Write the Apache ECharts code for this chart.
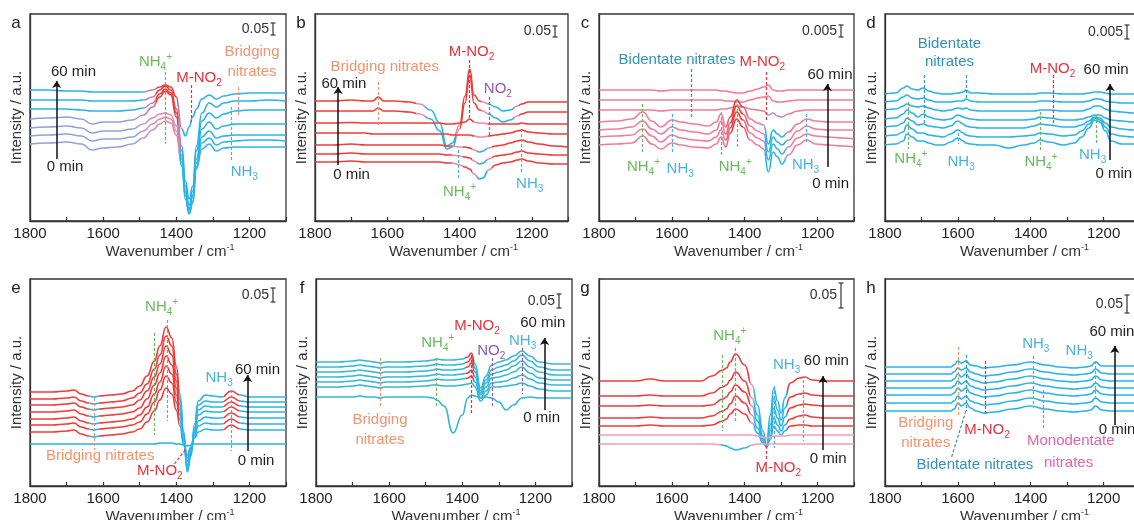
<!DOCTYPE html>
<html>
<head>
<meta charset="utf-8">
<script src="https://cdn.jsdelivr.net/npm/echarts@6/dist/echarts.min.js"></script>
<style>
  html, body { margin: 0; padding: 0; background: #fff; }
  #chart { width: 1134px; height: 520px; }
</style>
</head>
<body>
<div id="chart"></div>
<script>
// wavenumber grids (cm-1) and spectra, 60 min (top) -> 0 min (bottom), heights in plot units
const wnA = [1800,1750,1700,1660,1630,1600,1560,1520,1490,1465,1445,1430,1415,1400,1385,1375,1365,1355,1345,1330,1310,1290,1270,1240,1200,1150,1100];
const specA = [
  [131,131,130,130,129,129,129,129,129,131,134,136,134,124,92,85,94,104,112,122,126,122,125,127,128,128,128],
  [121,121,121,121,120,120,120,120,121,124,131,135,131,112,75,40,22,35,75,108,118,114,118,120,120,121,120],
  [112,112,112,111,110,110,110,111,113,118,127,132,128,108,70,35,16,30,70,100,108,103,107,110,111,111,111],
  [102,103,104,102,97,99,99,101,106,114,124,130,126,104,65,30,12,26,62,92,99,92,95,97,97,97,97],
  [93,94,95,93,88,90,90,92,97,103,107,108,106,95,62,28,11,24,58,84,90,83,85,86,86,86,86],
  [85,86,87,85,80,82,82,84,90,97,102,104,102,90,58,25,8,20,54,78,83,76,79,80,81,81,80],
  [77,78,79,77,71,73,74,77,83,91,97,100,98,86,55,22,7,18,52,72,77,70,73,74,74,74,74]
];

const wnB = [1800,1750,1700,1660,1640,1625,1610,1580,1540,1510,1480,1455,1435,1420,1400,1385,1372,1360,1345,1335,1320,1300,1280,1260,1240,1228,1210,1180,1140,1100];
const specB = [
  [120,120,121,120,120,124,120,120,119,117,111,98,75,78,96,125,152,126,120,119,117,114,110,111,115,117,119,119,119,119],
  [110,110,110,110,110,113,110,110,109,107,102,90,72,74,92,118,146,118,111,110,107,103,99,101,105,107,109,109,109,109],
  [98,98,98.5,98,98,98,98,98,98,98,98,98,97,97,98,99,102,99,98,98,97,97,97,97,97,98,97,97,97,97],
  [88,88,88,88,87,87,87,87,87,87,87,87,87,86,86,86,86,85,84,84,85,86,87,88,90,91,89,88,87,87],
  [76,76,77,76,76,76,76,76,76,76,76,76,75,75,74,74,73,71,69,70,73,75,76,78,80,81,79,77,75,74],
  [67,67,68,67,67,67,67,67,67,67,67,67,66,66,65,64,63,60,57,58,62,65,66,67,69,70,68,67,66,66],
  [59,59,60,59,59,59,59,59,59,59,59,59,58,58,56,54,52,47,42,43,51,56,58,59,61,62,60,58,57,57]
];

const wnC = [1800,1750,1710,1680,1655,1630,1600,1575,1540,1500,1478,1465,1452,1440,1422,1405,1385,1365,1348,1335,1322,1310,1298,1280,1255,1230,1205,1170,1130,1100];
const specC = [
  [131,131,131,131,131,130,131,131,131,131,131,130,130,129,128,128,130,132,134,136,131,130,130,131,131,131,131,131,131,131],
  [121,121,121,121,121,121,121,121,121,121,121,121,120,120,119,119,121,123,124,125,120,119,119,120,121,121,121,121,121,121],
  [111,111,111,111,111,110,111,111,111,111,111,112,112,113,115,114,112,111,110,106,108,105,104,107,110,111,111,111,111,111],
  [99,100,102,109,100,94,101,99,97,95,99,107,94,104,121,114,102,98,96,77,91,87,84,89,97,102,100,99,99,99],
  [91,92,94,100,92,87,94,91,89,87,91,100,87,98,115,107,95,90,87,69,84,79,76,81,90,95,92,91,91,91],
  [84,85,86,92,85,79,86,83,81,80,84,91,81,93,109,101,88,83,80,61,77,72,67,74,83,87,85,84,83,82],
  [76,77,78,85,77,72,78,76,74,73,77,84,74,88,102,94,81,76,72,49,69,64,57,66,76,81,77,76,75,74]
];

const wnD = [1800,1770,1750,1740,1725,1710,1695,1680,1660,1640,1620,1600,1585,1578,1565,1540,1500,1460,1420,1390,1375,1350,1310,1280,1260,1240,1225,1210,1195,1180,1150,1120,1100];
const specD = [
  [127,128,133,135,132,131,133,130,128,127,127,128,129,131,128,128,127,127,127,127,128,128,127,127,127,128,129,129,128,127,127,127,127],
  [119,120,124,126,123,122,123,121,119,119,119,120,120,122,120,119,119,119,119,119,120,120,119,119,119,120,122,122,120,119,118,118,118],
  [111,112,115,117,115,114,115,113,111,110,111,113,112,113,111,110,110,110,110,110,111,111,110,110,110,112,115,115,112,110,109,108,108],
  [102,103,107,111,108,104,107,104,102,101,102,106,104,103,102,101,101,101,101,102,104,103,101,101,102,104,106,106,103,101,100,99,99],
  [94,95,98,103,100,96,97,95,94,93,95,100,97,95,94,93,93,93,93,95,97,96,94,94,96,100,104,103,98,94,92,91,91],
  [85,86,89,96,92,88,88,86,85,84,87,91,88,86,85,84,84,84,85,86,88,87,85,86,90,97,103,101,94,87,85,84,84],
  [76,77,80,87,84,80,80,78,76,76,79,83,80,78,77,76,76,73,76,78,81,79,76,78,84,93,101,99,90,80,77,77,77]
];

const wnE = [1800,1740,1700,1680,1660,1640,1625,1610,1580,1550,1520,1500,1480,1460,1445,1428,1412,1400,1390,1380,1370,1360,1350,1340,1320,1300,1275,1250,1225,1200,1150,1100];
const specE = [
  [94,94,95,96,92,90,89,90,91,92,95,100,110,125,140,159,148,120,92,55,14,30,62,85,91,90,89,95,91,89,89,89],
  [87,87,88,89,85,83,82,83,84,85,88,93,102,117,131,150,140,112,86,52,16,32,58,81,85,84,84,89,85,84,84,84],
  [81,81,82,83,79,77,76,77,78,79,81,86,95,109,122,140,131,105,81,49,18,33,56,76,80,79,79,84,80,79,79,79],
  [74,74,75,76,72,70,69,70,71,72,74,78,87,101,113,130,121,98,76,47,21,35,54,71,75,74,74,79,75,74,74,74],
  [67,67,68,69,65,63,62,63,64,65,67,71,79,92,104,120,112,91,71,45,25,37,52,65,69,68,68,73,69,68,68,68],
  [61,61,62,63,59,57,56,57,58,59,61,64,72,84,96,110,103,84,66,43,28,38,50,60,63,62,62,67,63,62,62,62],
  [54,54,55,56,52,50,49,50,51,52,54,57,64,75,86,98,92,76,60,41,31,39,48,54,57,56,56,61,57,56,56,56],
  [42,42,42,42,42,42,42,42,42,42,42,42,42,42,43,43,43,42,42,41,40,41,42,42,42,42,42,42,42,42,42,42]
];

const wnF = [1800,1740,1700,1680,1660,1640,1625,1610,1560,1500,1480,1470,1450,1425,1400,1385,1375,1365,1350,1335,1320,1300,1280,1260,1237,1215,1190,1150,1100];
const specF = [
  [124,124,125,126,125,124,123,124,124,125,126,127,126,126,127,129,133,122,98,110,121,124,126,130,135,130,124,122,122],
  [119,119,120,121,120,119,118,119,119,120,121,122,121,121,122,124,128,118,95,106,116,119,121,125,131,125,119,116,116],
  [114,114,115,116,115,114,113,114,114,115,116,117,116,116,117,119,123,114,93,103,112,114,116,120,125,119,114,111,111],
  [109,109,110,111,110,109,108,109,109,110,111,112,111,111,112,113,116,109,91,99,108,109,111,114,119,113,108,106,106],
  [104,104,105,106,105,104,103,104,104,105,106,107,106,106,107,108,110,104,88,95,103,104,105,108,111,107,103,101,101],
  [99,99,100,101,100,99,98,99,99,100,101,101,100,100,101,102,103,99,85,91,99,99,100,101,103,100,97,95,95],
  [89,89,89,90,89,89,88,89,89,89,88,86,80,53,71,88,91,90,88,89,88,84,76,81,88,89,88,88,88]
];

const wnG = [1800,1700,1660,1620,1560,1520,1490,1460,1450,1440,1425,1400,1380,1365,1350,1340,1330,1320,1310,1300,1290,1275,1250,1235,1215,1180,1140,1100];
const specG = [
  [105,105,107,105,105,105,110,116,118,124,132,121,101,81,55,41,71,98,85,73,88,103,108,109,106,105,105,105],
  [90,90,91,90,90,90,93,99,101,106,114,105,88,71,50,40,61,88,76,66,78,89,92,93,91,90,90,90],
  [80,80,81,80,80,80,81,87,89,94,101,94,80,65,47,40,55,78,68,60,69,78,81,82,81,80,80,80],
  [68,68,69,68,68,68,70,75,77,82,90,83,71,58,45,39,50,68,61,55,61,67,70,71,69,68,68,68],
  [60,60,61,60,60,60,61,65,67,72,77,72,63,53,43,39,46,60,55,51,55,60,61,61,60,60,60,60],
  [51,51,51,51,51,51,51,51,51,51,51,51,51,50,49,48,49,50,50,50,50,51,51,51,51,51,51,51],
  [42,42,42,42,42,42,42,41,40,38,36,38,41,42,42,42,42,42,42,42,42,42,42,42,42,42,42,42]
];

const wnH = [1800,1740,1680,1640,1620,1610,1600,1590,1578,1565,1550,1530,1500,1450,1400,1360,1320,1280,1250,1235,1222,1205,1180,1140,1100];
const specH = [
  [119,119,119,119,119,121,125,123,125,121,120,118,119,121,124,121,119,118,119,120,124,120,120,120,120],
  [112,112,112,112,112,114,118,116,118,114,112,110,111,114,117,114,112,111,112,113,117,113,112,112,112],
  [105,105,105,105,105,107,112,109,112,107,105,103,104,107,110,107,105,104,105,106,110,106,105,105,105],
  [98,98,98,98,98,100,105,102,105,100,98,96,97,100,103,100,98,97,98,99,103,99,98,98,98],
  [91,91,91,91,91,93,98,95,98,93,91,89,90,93,96,93,91,90,91,92,96,92,91,91,91],
  [83,83,83,83,83,85,90,87,90,85,83,81,82,85,88,85,83,82,83,84,88,84,83,83,83],
  [75,75,75,75,75,77,83,80,83,78,75,73,74,77,80,77,75,74,75,76,80,76,75,75,75]
];

const FONT = '"Liberation Sans", Arial, Helvetica, sans-serif';

// line colours
const CYAN = '#2ab3e6', RED = '#ef3b3a', PINK = '#f27b97', LAV = '#90a3d8',
      TEALLINE = '#37b7d8', LPINK = '#f59cb2', MIDPINK = '#f08aa8';
// label colours
const GREEN = '#68b95c', LRED = '#e8313a', ORANGE = '#f4936b', BLUE = '#47b2e0',
      VIOLET = '#8c5cb3', TEAL = '#3192ba', MAGENTA = '#e463a9', INK = '#1e1e1e';

// panel boxes in px
const GRIDS = [
  {left: 30, top: 14, width: 256, height: 207},
  {left: 315, top: 14, width: 253, height: 207},
  {left: 599, top: 14, width: 255, height: 207},
  {left: 885, top: 14, width: 255, height: 207},
  {left: 30, top: 279, width: 256, height: 207},
  {left: 316, top: 279, width: 256, height: 207},
  {left: 599, top: 279, width: 255, height: 207},
  {left: 885, top: 279, width: 255, height: 207}
];

const PANELS = [
  {letter: 'a', wn: wnA, spec: specA, scale: ['0.05', 9, 21],
   colors: [
     {s: [0, 1, 2], base: CYAN, bands: [[1385, 1395, '#c27aa8'], [1395, 1455, RED], [1455, 1470, '#e0708f'], [1470, 1490, '#b08ccf']]},
     {s: [3], base: CYAN, bands: [[1385, 1395, '#c27aa8'], [1395, 1455, RED], [1455, 1475, '#e0708f'], [1475, 1500, '#c08cc6'], [1500, 1810, LAV]]},
     {s: [4, 5, 6], base: CYAN, bands: [[1390, 1400, '#c98ab8'], [1400, 1470, '#e58aa8'], [1470, 1500, '#c59ccf'], [1500, 1810, LAV]]}
   ],
   text: [['NH_4^+', 1457, 159, GREEN], ['M-NO_2', 1338, 143, LRED], ['Bridging', 1193, 169, ORANGE], ['nitrates', 1193, 149, ORANGE],
          ['NH_3', 1214, 49, BLUE], ['60 min', 1681, 149, INK], ['0 min', 1704, 54, INK]],
   dash: [[1430, 149, 1430, 77, GREEN], [1358, 136, 1358, 99, LRED], [1230, 134, 1230, 104, ORANGE], [1250, 114, 1250, 61, GREEN]],
   arrow: [1727, 62, 1727, 140]},
  {letter: 'b', wn: wnB, spec: specB, scale: ['0.05', 12, 23],
   colors: [
     {s: [0, 1], base: RED, bands: [[1235, 1250, MIDPINK], [1250, 1320, CYAN], [1320, 1340, MIDPINK], [1398, 1410, MIDPINK], [1410, 1495, CYAN], [1495, 1520, MIDPINK]]},
     {s: [2, 3], base: RED, bands: [[1320, 1360, '#f28aa4']]},
     {s: [4, 5, 6], base: RED, bands: [[1310, 1325, MIDPINK], [1325, 1352, CYAN], [1352, 1365, MIDPINK], [1390, 1420, '#f28aa4']]}
   ],
   text: [['Bridging nitrates', 1607, 154, ORANGE], ['M-NO_2', 1367, 169, LRED], ['NO_2', 1294, 132, VIOLET], ['NH_4^+', 1400, 29, GREEN],
          ['NH_3', 1206, 37, BLUE], ['60 min', 1720, 137, INK], ['0 min', 1699, 46, INK]],
   dash: [[1625, 139, 1625, 96, ORANGE], [1372, 161, 1372, 101, LRED], [1318, 124, 1318, 84, VIOLET], [1405, 71, 1405, 41, BLUE], [1228, 92, 1228, 49, BLUE]],
   arrow: [1736, 56, 1736, 134]},
  {letter: 'c', wn: wnC, spec: specC, scale: ['0.005', 11, 23],
   colors: [
     {s: [0, 1], base: PINK, bands: []},
     {s: [2], base: PINK, bands: [[1290, 1340, '#b890c8']]},
     {s: [3, 4, 5, 6], base: PINK, bands: [[1275, 1290, '#b090d0'], [1290, 1345, CYAN], [1345, 1352, '#b090d0'], [1390, 1405, '#f0607a'], [1405, 1440, RED], [1440, 1455, '#f0607a']]}
   ],
   text: [['Bidentate nitrates', 1586, 161, TEAL], ['M-NO_2', 1352, 159, LRED], ['60 min', 1166, 146, INK], ['0 min', 1164, 37, INK],
          ['NH_4^+', 1678, 54, GREEN], ['NH_3', 1577, 52, BLUE], ['NH_4^+', 1426, 54, GREEN], ['NH_3', 1233, 56, BLUE]],
   dash: [[1548, 152, 1548, 104, TEAL], [1340, 149, 1340, 99, LRED], [1680, 117, 1680, 69, GREEN], [1600, 107, 1600, 69, BLUE],
          [1465, 109, 1465, 64, GREEN], [1420, 122, 1420, 74, GREEN], [1230, 107, 1230, 77, BLUE]],
   arrow: [1173, 54, 1173, 137]},
  {letter: 'd', wn: wnD, spec: specD, scale: ['0.005', 11, 25],
   colors: [{s: [0, 1, 2, 3, 4, 5, 6], base: CYAN, bands: []}],
   text: [['Bidentate', 1623, 177, TEAL], ['nitrates', 1623, 159, TEAL], ['M-NO_2', 1340, 152, LRED], ['60 min', 1193, 151, INK], ['0 min', 1172, 47, INK],
          ['NH_4^+', 1729, 62, GREEN], ['NH_3', 1591, 59, BLUE], ['NH_4^+', 1372, 59, GREEN], ['NH_3', 1230, 66, BLUE]],
   dash: [[1693, 146, 1693, 97, TEAL], [1578, 146, 1578, 121, TEAL], [1338, 146, 1338, 97, LRED], [1735, 119, 1735, 72, GREEN],
          [1600, 88, 1600, 77, BLUE], [1375, 109, 1375, 70, GREEN], [1220, 106, 1220, 77, GREEN]],
   arrow: [1182, 61, 1182, 137]},
  {letter: 'e', wn: wnE, spec: specE, scale: ['0.05', 9, 23],
   colors: [
     {s: [0, 1, 2, 3, 4, 5, 6], base: RED, bands: [[1090, 1228, CYAN], [1270, 1392, CYAN], [1610, 1640, CYAN]]},
     {s: [7], base: CYAN, bands: []}
   ],
   text: [['NH_4^+', 1440, 179, GREEN], ['NH_3', 1283, 108, BLUE], ['60 min', 1178, 116, INK], ['0 min', 1182, 25, INK],
          ['Bridging nitrates', 1608, 30, ORANGE], ['M-NO_2', 1445, 15, LRED]],
   dash: [[1460, 153, 1460, 51, GREEN], [1425, 166, 1425, 65, GREEN], [1250, 96, 1250, 35, BLUE], [1625, 88, 1625, 36, ORANGE], [1405, 22, 1372, 38, LRED]],
   arrow: [1205, 35, 1205, 111]},
  {letter: 'f', wn: wnF, spec: specF, scale: ['0.05', 15, 29],
   colors: [
     {s: [0, 1, 2, 3, 4], base: TEALLINE, bands: [[1368, 1390, RED]]},
     {s: [5, 6], base: TEALLINE, bands: []}
   ],
   text: [['M-NO_2', 1360, 160, LRED], ['NO_2', 1321, 135, VIOLET], ['NH_3', 1235, 145, BLUE], ['NH_4^+', 1467, 143, GREEN],
          ['Bridging', 1625, 66, ORANGE], ['nitrates', 1625, 46, ORANGE], ['60 min', 1180, 163, INK], ['0 min', 1183, 68, INK]],
   dash: [[1375, 131, 1375, 71, LRED], [1318, 128, 1318, 80, VIOLET], [1237, 138, 1237, 92, VIOLET], [1470, 128, 1470, 78, GREEN], [1625, 128, 1625, 80, ORANGE]],
   arrow: [1175, 76, 1175, 148]},
  {letter: 'g', wn: wnG, spec: specG, scale: ['0.05', 4, 29],
   colors: [
     {s: [0, 1, 2, 3, 4], base: RED, bands: [[1285, 1375, CYAN], [1375, 1385, MIDPINK]]},
     {s: [5], base: LPINK, bands: []},
     {s: [6], base: LPINK, bands: [[1385, 1465, CYAN]]}
   ],
   text: [['NH_4^+', 1441, 150, GREEN], ['NH_3', 1285, 121, BLUE], ['60 min', 1176, 125, INK], ['0 min', 1171, 27, INK], ['M-NO_2', 1308, 18, LRED]],
   dash: [[1462, 131, 1462, 55, GREEN], [1425, 138, 1425, 63, GREEN], [1320, 100, 1320, 38, BLUE], [1238, 106, 1238, 45, BLUE], [1342, 40, 1342, 26, LRED]],
   arrow: [1185, 36, 1185, 110]},
  {letter: 'h', wn: wnH, spec: specH, scale: ['0.05', 16, 34],
   colors: [{s: [0, 1, 2, 3, 4, 5, 6], base: CYAN, bands: []}],
   text: [['NH_3', 1386, 142, BLUE], ['NH_3', 1267, 135, BLUE], ['60 min', 1177, 154, INK], ['0 min', 1163, 56, INK],
          ['Bridging', 1688, 63, ORANGE], ['nitrates', 1688, 43, ORANGE], ['M-NO_2', 1520, 56, LRED], ['Bidentate nitrates', 1553, 21, TEAL],
          ['Monodentate', 1290, 45, MAGENTA], ['nitrates', 1296, 23, MAGENTA]],
   dash: [[1392, 130, 1392, 78, BLUE], [1222, 125, 1222, 88, BLUE], [1600, 139, 1600, 70, ORANGE], [1526, 125, 1526, 70, LRED],
          [1578, 131, 1578, 75, TEAL], [1578, 75, 1618, 28, TEAL], [1365, 96, 1365, 58, MAGENTA]],
   arrow: [1169, 61, 1169, 140]}
];

// 'NH_4^+' -> rich text with sub/superscripts
function chem(s) {
  let out = '', buf = '';
  for (let i = 0; i < s.length; i++) {
    const ch = s[i];
    if (ch === '_' || ch === '^') {
      if (buf) { out += '{m|' + buf + '}'; buf = ''; }
      out += '{' + (ch === '_' ? 's' : 'p') + '|' + s[i + 1] + '}';
      i++;
    } else {
      buf += ch;
    }
  }
  if (buf) out += '{m|' + buf + '}';
  return out;
}
const richFor = c => ({
  m: {fontSize: 15, color: c, fontFamily: FONT, lineHeight: 20},
  s: {fontSize: 10, color: c, fontFamily: FONT, lineHeight: 10, verticalAlign: 'bottom'},
  p: {fontSize: 10, color: c, fontFamily: FONT, lineHeight: 10, verticalAlign: 'top'}
});

const series = [];
const visualMap = [];
const graphic = [];

PANELS.forEach((p, pi) => {
  const first = series.length;
  p.spec.forEach(vals => {
    series.push({
      type: 'line', xAxisIndex: pi, yAxisIndex: pi,
      data: p.wn.map((w, i) => [w, vals[i]]),
      showSymbol: false, smooth: 0.5, smoothMonotone: 'x', silent: true, z: 3,
      lineStyle: {width: 1.6}
    });
  });
  p.colors.forEach(g => {
    const idx = g.s.map(k => first + k);
    if (!g.bands.length) {
      idx.forEach(k => { series[k].lineStyle.color = g.base; series[k].itemStyle = {color: g.base}; });
    } else {
      visualMap.push({
        type: 'piecewise', show: false, dimension: 0, seriesIndex: idx,
        pieces: g.bands.map(b => ({gt: b[0], lte: b[1], color: b[2]})),
        outOfRange: {color: g.base}
      });
    }
  });

  // annotations: dashed guides, arrow, labels
  const lines = p.dash.map(([x1, y1, x2, y2, c]) => [
    {coord: [x1, y1], lineStyle: {color: c, type: [3, 2], width: 1.2}},
    {coord: [x2, y2]}
  ]);
  const [ax, ay1, ax2, ay2] = p.arrow;
  lines.push([
    {coord: [ax, ay1], symbol: 'none', lineStyle: {color: '#111', type: 'solid', width: 1.5}},
    {coord: [ax2, ay2], symbol: 'arrow', symbolSize: 7}
  ]);
  series.push({
    type: 'line', xAxisIndex: pi, yAxisIndex: pi, data: [], silent: true, z: 5,
    markLine: {silent: true, symbol: 'none', label: {show: false}, animation: false, data: lines},
    markPoint: {
      silent: true, animation: false,
      data: p.text.map(([t, x, y, c]) => ({
        coord: [x, y], symbol: 'circle', symbolSize: 1, itemStyle: {color: 'rgba(0,0,0,0)'},
        label: {show: true, position: 'inside', color: c, formatter: chem(t), rich: richFor(c)}
      }))
    }
  });

  // panel letter and scale bar
  const gr = GRIDS[pi], right = gr.left + gr.width;
  graphic.push({type: 'text', x: gr.left - 14, y: gr.top + 9, silent: true,
    style: {text: p.letter, font: '17px ' + FONT, fill: '#222', align: 'center', verticalAlign: 'middle'}});
  const [txt, s1, s2] = p.scale;
  const bx = right - 13, t1 = gr.top + s1, t2 = gr.top + s2;
  graphic.push({type: 'text', x: bx - 4, y: (t1 + t2) / 2, silent: true,
    style: {text: txt, font: '14px ' + FONT, fill: '#333', align: 'right', verticalAlign: 'middle'}});
  [[bx, t1, bx, t2], [bx - 2.5, t1, bx + 2.5, t1], [bx - 2.5, t2, bx + 2.5, t2]].forEach(([x1, y1, x2, y2]) => {
    graphic.push({type: 'line', silent: true, shape: {x1, y1, x2, y2}, style: {stroke: '#333', lineWidth: 1.2}});
  });
});

const chart = echarts.init(document.getElementById('chart'), null, {renderer: 'canvas'});
chart.setOption({
  animation: false,
  backgroundColor: '#fff',
  textStyle: {fontFamily: FONT},
  grid: GRIDS.map(g => ({
    left: g.left, top: g.top, width: g.width, height: g.height,
    show: true, borderColor: '#333', borderWidth: 1.3, backgroundColor: 'transparent',
    containLabel: false, outerBoundsMode: 'none'
  })),
  xAxis: GRIDS.map((g, i) => ({
    gridIndex: i, type: 'value', min: 1100, max: 1800, interval: 100, inverse: true,
    axisLine: {show: true, lineStyle: {color: '#333', width: 1.3}},
    axisTick: {show: true, inside: true, length: 4, lineStyle: {color: '#333', width: 1.2}},
    axisLabel: {margin: 5, fontSize: 15, color: '#222', fontFamily: FONT,
      formatter: v => (v % 200 === 0 ? String(v) : '')},
    splitLine: {show: false},
    name: '{n|Wavenumber / cm}{s|-1}', nameLocation: 'middle', nameGap: 22, nameMoveOverlap: false,
    nameTextStyle: {
      padding: [0, 0, 0, 24],
      rich: {
        n: {fontSize: 15, color: '#333', fontFamily: FONT, lineHeight: 18},
        s: {fontSize: 9, color: '#333', fontFamily: FONT, lineHeight: 9, verticalAlign: 'top'}
      }
    }
  })),
  yAxis: GRIDS.map((g, i) => ({
    gridIndex: i, type: 'value', min: 0, max: 207,
    axisLine: {show: true, lineStyle: {color: '#333', width: 1.3}},
    axisTick: {show: false}, axisLabel: {show: false}, splitLine: {show: false},
    name: 'Intensity / a.u.', nameLocation: 'middle', nameGap: 6, nameRotate: 90, nameMoveOverlap: false,
    nameTextStyle: {fontSize: 15, color: '#333', fontFamily: FONT}
  })),
  visualMap: visualMap,
  graphic: graphic,
  series: series
});
</script>
</body>
</html>
